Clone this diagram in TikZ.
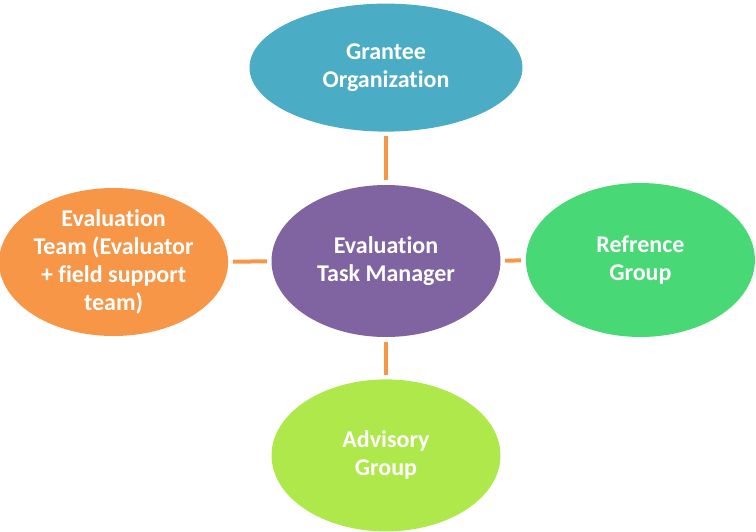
\documentclass[tikz,border=0pt]{standalone}
\usepackage{fontspec}
\setmainfont{Carlito}[Ligatures=NoCommon]
\usetikzlibrary{shapes.geometric}
\usetikzlibrary{positioning}

\definecolor{granteeblue}{HTML}{4BACC6}
\definecolor{managerpurple}{HTML}{8064A2}
\definecolor{teamorange}{HTML}{F79646}
\definecolor{refgreen}{HTML}{48D875}
\definecolor{advisorylime}{HTML}{AFE84A}

\begin{document}
\begin{tikzpicture}[
          group/.style = {ellipse, inner sep=0pt, minimum width=229pt, minimum height=152pt, align=center, text=white, font=\fontsize{24}{28}\selectfont\bfseries},
          link/.style = {line width=4pt, teamorange, shorten <=4.5pt, shorten >=4.5pt}
        ]

        \useasboundingbox (0pt,0pt) rectangle (756pt,-531pt);

        % Nodes
        \node[group, fill=managerpurple] (manager) at (386pt,-261pt) {Evaluation\\Task Manager};
        \node[group, fill=granteeblue, above=53pt of manager, minimum width=273pt, minimum height=128pt] (grantee) {Grantee\\Organization};
        \node[group, fill=teamorange, left=43pt of manager, yshift=-1pt, minimum height=148pt] (team) {Evaluation\\Team (Evaluator\\+ field support\\team)};
        \node[group, fill=refgreen, right=25pt of manager, yshift=1pt, minimum height=154pt] (reference) {Refrence\\Group};
        \node[group, fill=advisorylime, below=42pt of manager] (advisory) {Advisory\\Group};

        % Links to the task manager
        \draw[link] (grantee) -- (manager);
        \draw[link] (team) -- (manager);
        \draw[link] (manager) -- (reference);
        \draw[link] (manager) -- (advisory);

      \end{tikzpicture}
\end{document}
